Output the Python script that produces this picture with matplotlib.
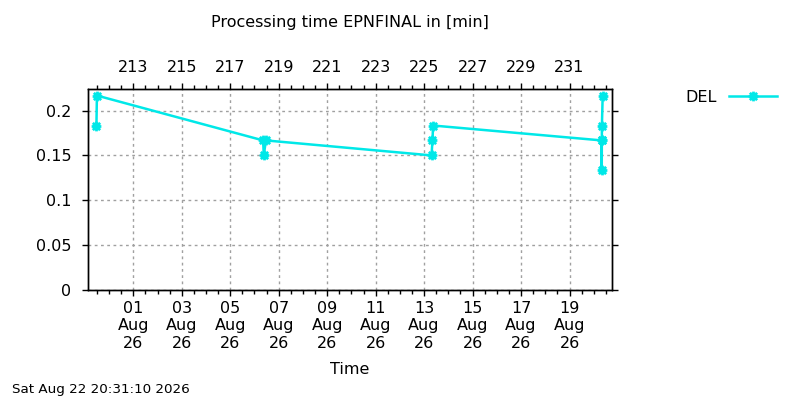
import numpy as np
import matplotlib
matplotlib.use('Agg')
import matplotlib.pyplot as plt
import matplotlib.dates as mdates
from matplotlib.path import Path
from datetime import datetime

# processing time of EPNFINAL runs, DEL series (minutes)
times = ['2026-07-30 11:30', '2026-07-30 12:00',
         '2026-08-06 08:35', '2026-08-06 09:15', '2026-08-06 11:20',
         '2026-08-13 07:20', '2026-08-13 08:18', '2026-08-13 08:53',
         '2026-08-20 07:50', '2026-08-20 07:55', '2026-08-20 08:00',
         '2026-08-20 08:05', '2026-08-20 08:50']
minutes = [0.1833, 0.2167,
           0.1667, 0.15, 0.1667,
           0.15, 0.1667, 0.1833,
           0.1667, 0.1333, 0.1667, 0.1833, 0.2167]
series_name = 'DEL'

x_start = '2026-07-30 03:10'
x_end = '2026-08-20 18:04'
y_ticks = [0, 0.05, 0.1, 0.15, 0.2]
y_ticklabels = ['0', '0.05', '0.1', '0.15', '0.2']
y_max = 0.224
day_ticks = ['2026-08-%02d' % d for d in range(1, 20, 2)]
doy_labels = ['213', '215', '217', '219', '221', '223', '225', '227', '229', '231']

title = 'Processing time EPNFINAL in [min]'
xlabel = 'Time'
stamp = 'Sat Aug 22 20:31:10 2026'

fmt = '%Y-%m-%d %H:%M'
t = [datetime.strptime(s, fmt) for s in times]
ticks = [datetime.strptime(s, '%Y-%m-%d') for s in day_ticks]

plt.rcParams['font.family'] = ['DejaVu Sans']
fs = 11.5
col = '#00e8e8'
grid_col = '#a0a0a0'

# gnuplot style point type 3: a "+" on top of an "x"
star = Path([(-1, 0), (1, 0), (0, -1), (0, 1),
             (-0.75, -0.75), (0.75, 0.75), (-0.75, 0.75), (0.75, -0.75)],
            [Path.MOVETO, Path.LINETO] * 4)

fig = plt.figure(figsize=(8, 4), dpi=100)
ax = fig.add_axes([88 / 800, 1 - 290 / 400, (612 - 88) / 800, (290 - 89) / 400])

line, = ax.plot(t, minutes, color=col, lw=1.8, marker=star, ms=7,
                mew=2.0, mec=col, mfc='none', label=series_name)

ax.set_xlim(datetime.strptime(x_start, fmt), datetime.strptime(x_end, fmt))
ax.set_ylim(0, y_max)
ax.set_yticks(y_ticks)
ax.set_yticklabels(y_ticklabels)
ax.set_xticks(ticks)
ax.xaxis.set_major_formatter(mdates.DateFormatter('%d\n%b\n%y'))
ax.xaxis.set_minor_locator(mdates.HourLocator(byhour=[0, 12]))

for lbl in ax.get_xticklabels():
    lbl.set_linespacing(1.19)

ax.tick_params(axis='x', which='major', direction='out', length=4, width=1,
               labelsize=fs, pad=4, color='black')
ax.tick_params(axis='x', which='minor', direction='out', length=3, width=1)
ax.tick_params(axis='y', which='major', direction='out', length=4, width=1,
               labelsize=fs, pad=8, right=True)
ax.grid(True, which='major', color=grid_col, lw=1, linestyle=(0, (2, 2.5)))

for sp in ax.spines.values():
    sp.set_linewidth(1.0)

# top axis with day of year
top = ax.twiny()
top.set_xlim(ax.get_xlim())
top.set_xticks(ticks)
top.set_xticklabels(doy_labels)
top.xaxis.set_minor_locator(mdates.HourLocator(byhour=[0, 12]))
top.tick_params(axis='x', which='major', direction='out', length=4, width=1,
                labelsize=fs, pad=6)
top.tick_params(axis='x', which='minor', direction='out', length=3, width=1)
for sp in top.spines.values():
    sp.set_linewidth(1.0)

fig.text(350 / 800, 1 - 23 / 400, title, ha='center', va='center', fontsize=fs)
fig.text(350 / 800, 1 - 370 / 400, xlabel, ha='center', va='center', fontsize=fs)
fig.text(12 / 800, 1 - 390 / 400, stamp, ha='left', va='center', fontsize=9.7)

fig.legend(handles=[line], loc='center right', bbox_to_anchor=(777 / 800, 1 - 97 / 400),
           frameon=False, markerfirst=False, handlelength=3.0, handletextpad=0.8,
           borderpad=0, borderaxespad=0, fontsize=fs, numpoints=1)

fig.savefig('out.png', dpi=100)
